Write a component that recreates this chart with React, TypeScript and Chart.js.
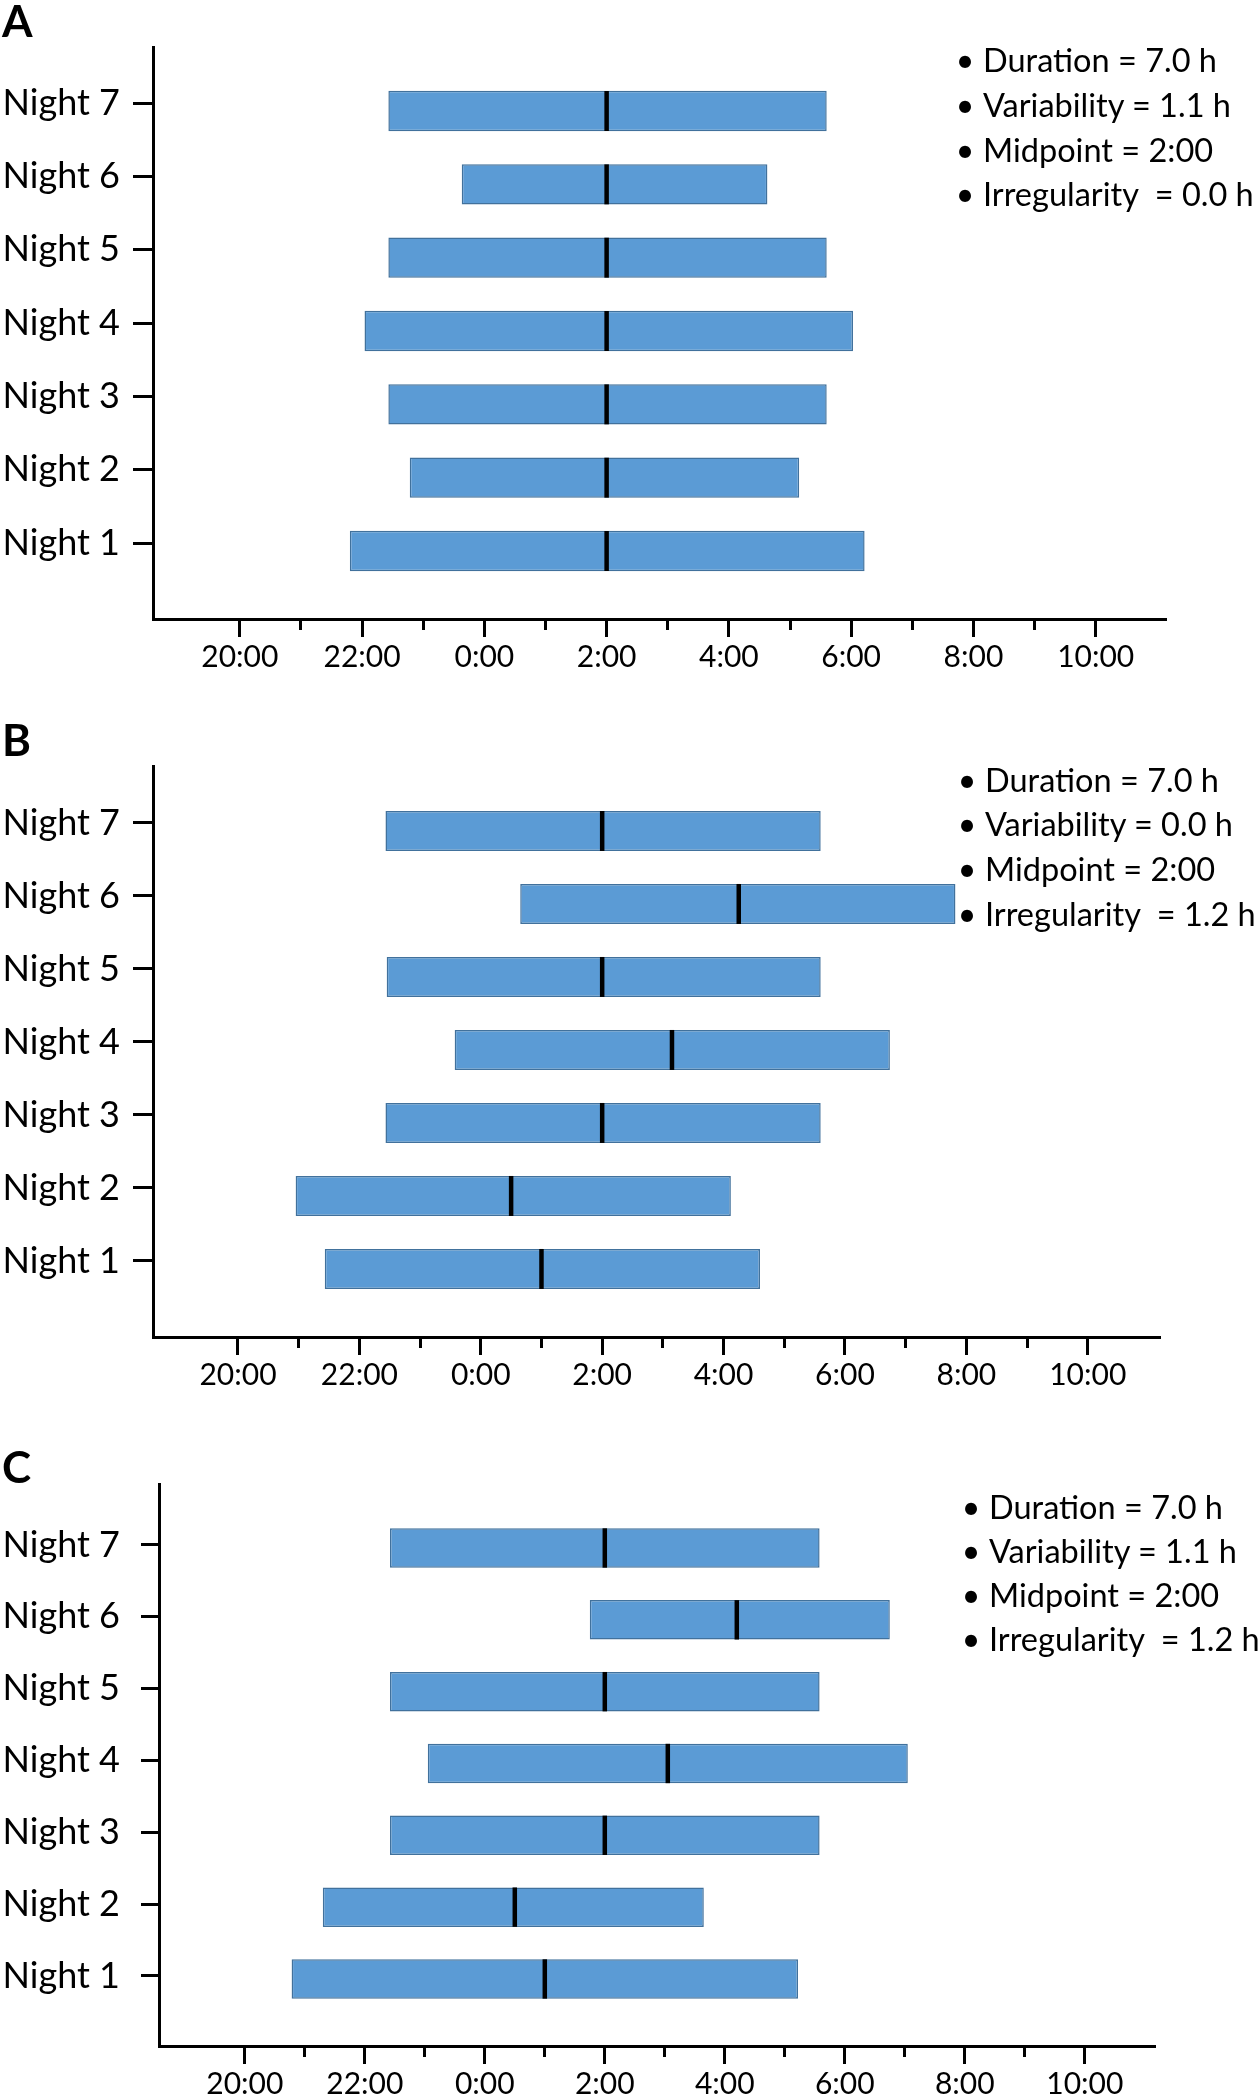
import React, { useEffect, useRef } from 'react';
import { Chart, registerables } from 'chart.js';

Chart.register(...registerables);
Chart.defaults.font.family = 'Lato';
Chart.defaults.color = '#000';

// ---------- data ----------
const nights = ['Night 1', 'Night 2', 'Night 3', 'Night 4', 'Night 5', 'Night 6', 'Night 7'];
// hours on a continuous clock: 24 = 0:00, 26 = 2:00 ...
const majorHours = [20, 22, 24, 26, 28, 30, 32, 34];
const tickLabels = ['20:00', '22:00', '0:00', '2:00', '4:00', '6:00', '8:00', '10:00'];
const minorHours = [21, 23, 25, 27, 29, 31, 33];

// Panel A
const bedA = [21.8, 22.78, 22.43, 22.04, 22.43, 23.63, 22.43];
const wakeA = [30.22, 29.15, 29.6, 30.03, 29.6, 28.63, 29.6];
const midA = [26, 26, 26, 26, 26, 26, 26];
const statsA = ['Duration = 7.0 h', 'Variability = 1.1 h', 'Midpoint = 2:00', 'Irregularity  = 0.0 h'];

// Panel B
const bedB = [21.43, 20.95, 22.43, 23.57, 22.45, 24.65, 22.43];
const wakeB = [28.6, 28.12, 29.6, 30.74, 29.6, 31.82, 29.6];
const midB = [25.0, 24.5, 26, 27.15, 26, 28.25, 26];
const statsB = ['Duration = 7.0 h', 'Variability = 0.0 h', 'Midpoint = 2:00', 'Irregularity  = 1.2 h'];

// Panel C
const bedC = [20.78, 21.3, 22.42, 23.05, 22.42, 25.75, 22.42];
const wakeC = [29.22, 27.65, 29.58, 31.05, 29.58, 30.75, 29.58];
const midC = [25.0, 24.5, 26, 27.05, 26, 28.2, 26];
const statsC = ['Duration = 7.0 h', 'Variability = 1.1 h', 'Midpoint = 2:00', 'Irregularity  = 1.2 h'];

type Layout = {
  top: number; height: number;
  padTop: number; padRight: number;
  yAxisW: number; xAxisH: number;
  xMin: number; xMax: number; yMin: number; yMax: number;
  yTick: number; yPad: number; markR: number; tickShift: number;
};

function makeConfig(bed: number[], wake: number[], mid: number[], p: Layout): any {
  return {
    type: 'bar',
    data: {
      datasets: [
        {
          type: 'scatter',
          order: 0,
          data: nights.map((_, i) => ({ x: mid[i], y: i + 1 })),
          pointStyle: 'line',
          rotation: 90,
          pointRadius: p.markR,
          pointHoverRadius: p.markR,
          pointBorderColor: '#000',
          pointBackgroundColor: '#000',
          pointBorderWidth: 4.5,
          borderColor: '#000',
          xAxisID: 'x',
          yAxisID: 'y',
        },
        {
          type: 'bar',
          order: 1,
          indexAxis: 'y',
          data: nights.map((_, i) => ({ x: [bed[i], wake[i]], y: i + 1 })),
          backgroundColor: '#5B9BD5',
          borderColor: '#41719C',
          borderWidth: 1.5,
          borderSkipped: false,
          categoryPercentage: 1,
          barPercentage: 0.55,
          xAxisID: 'x',
          yAxisID: 'y',
        },
      ],
    },
    options: {
      responsive: false,
      animation: false,
      devicePixelRatio: 1,
      layout: { padding: { top: p.padTop, right: p.padRight, left: 0, bottom: 0 } },
      plugins: { legend: { display: false }, tooltip: { enabled: false } },
      scales: {
        x: {
          type: 'linear',
          position: 'bottom',
          offset: false,
          min: p.xMin,
          max: p.xMax,
          afterFit: (s: any) => { s.height = p.xAxisH; },
          afterBuildTicks: (s: any) => { s.ticks = majorHours.map((v) => ({ value: v })); },
          ticks: {
            callback: (v: any) => tickLabels[majorHours.indexOf(v)],
            font: { family: 'Lato', size: 30 },
            color: '#000',
            padding: 2,
            maxRotation: 0,
            autoSkip: false,
          },
          grid: { offset: false, drawOnChartArea: false, drawTicks: true, tickLength: 18, tickWidth: 3, tickColor: '#000' },
          border: { display: true, color: '#000', width: 3 },
        },
        x2: {
          type: 'linear',
          axis: 'x',
          offset: false,
          position: { y: p.yMin },
          min: p.xMin,
          max: p.xMax,
          afterBuildTicks: (s: any) => { s.ticks = minorHours.map((v) => ({ value: v })); },
          ticks: { display: false },
          grid: { offset: false, drawOnChartArea: false, drawTicks: true, tickLength: 11, tickWidth: 3, tickColor: '#000' },
          border: { display: false },
        },
        y: {
          type: 'linear',
          position: 'left',
          offset: false,
          min: p.yMin,
          max: p.yMax,
          afterFit: (s: any) => { s.width = p.yAxisW; },
          afterBuildTicks: (s: any) => { s.ticks = nights.map((_, i) => ({ value: i + 1 + p.tickShift })); },
          ticks: {
            callback: (v: any) => nights[Math.round(v) - 1],
            font: { family: 'Lato', size: 36 },
            color: '#000',
            padding: p.yPad,
            autoSkip: false,
          },
          grid: { offset: false, drawOnChartArea: false, drawTicks: true, tickLength: p.yTick, tickWidth: 3, tickColor: '#000' },
          border: { display: true, color: '#000', width: 3 },
        },
      },
    },
  };
}

function PanelChart(props: { bed: number[]; wake: number[]; mid: number[]; layout: Layout }) {
  const ref = useRef<HTMLCanvasElement>(null);
  useEffect(() => {
    if (!ref.current) return;
    const chart = new Chart(ref.current, makeConfig(props.bed, props.wake, props.mid, props.layout));
    return () => chart.destroy();
  }, []);
  const l = props.layout;
  return (
    <canvas
      ref={ref}
      width={1258}
      height={l.height}
      style={{ position: 'absolute', left: 0, top: l.top, width: 1258, height: l.height }}
    />
  );
}

function Legend(props: { lines: string[]; bulletX: number; textX: number; firstY: number; step: number }) {
  return (
    <>
      {props.lines.map((t, i) => {
        const cy = props.firstY + i * props.step;
        return (
          <React.Fragment key={i}>
            <div style={{ position: 'absolute', left: props.bulletX - 10, top: cy - 22, width: 20, height: 44, lineHeight: '44px', fontSize: 32, textAlign: 'center' }}>•</div>
            <div style={{ position: 'absolute', left: props.textX, top: cy - 22, height: 44, lineHeight: '44px', fontSize: 32.5, whiteSpace: 'pre' }}>{t}</div>
          </React.Fragment>
        );
      })}
    </>
  );
}

const layoutA: Layout = { top: 0, height: 700, padTop: 47, padRight: 92, yAxisW: 153, xAxisH: 81, xMin: 18.58, xMax: 35.15, yMin: 0.073, yMax: 7.873, yTick: 20, yPad: 13, markR: 20, tickShift: 0.109 };
const layoutB: Layout = { top: 700, height: 720, padTop: 66, padRight: 98, yAxisW: 153, xAxisH: 83, xMin: 18.6, xMax: 35.19, yMin: 0.068, yMax: 7.89, yTick: 20, yPad: 13, markR: 20, tickShift: 0.11 };
const layoutC: Layout = { top: 1420, height: 680, padTop: 64, padRight: 103, yAxisW: 159, xAxisH: 54, xMin: 18.57, xMax: 35.17, yMin: 0.067, yMax: 7.891, yTick: 18, yPad: 21, markR: 19.7, tickShift: 0.042 };

export default function App() {
  const letter = (t: string, cy: number) => (
    <div style={{ position: 'absolute', left: 2, top: cy - 23, fontSize: 44, fontWeight: 700, lineHeight: 1 }}>{t}</div>
  );
  return (
    <div style={{ position: 'absolute', left: 0, top: 0, width: 1258, height: 2100, background: '#fff', fontFamily: 'Lato', color: '#000', overflow: 'hidden' }}>
      <PanelChart bed={bedA} wake={wakeA} mid={midA} layout={layoutA} />
      <PanelChart bed={bedB} wake={wakeB} mid={midB} layout={layoutB} />
      <PanelChart bed={bedC} wake={wakeC} mid={midC} layout={layoutC} />
      {letter('A', 21.4)}
      {letter('B', 740)}
      {letter('C', 1467)}
      <Legend lines={statsA} bulletX={965} textX={983} firstY={60.3} step={44.6} />
      <Legend lines={statsB} bulletX={967} textX={985} firstY={779.7} step={44.6} />
      <Legend lines={statsC} bulletX={971} textX={989} firstY={1507.2} step={43.8} />
    </div>
  );
}
